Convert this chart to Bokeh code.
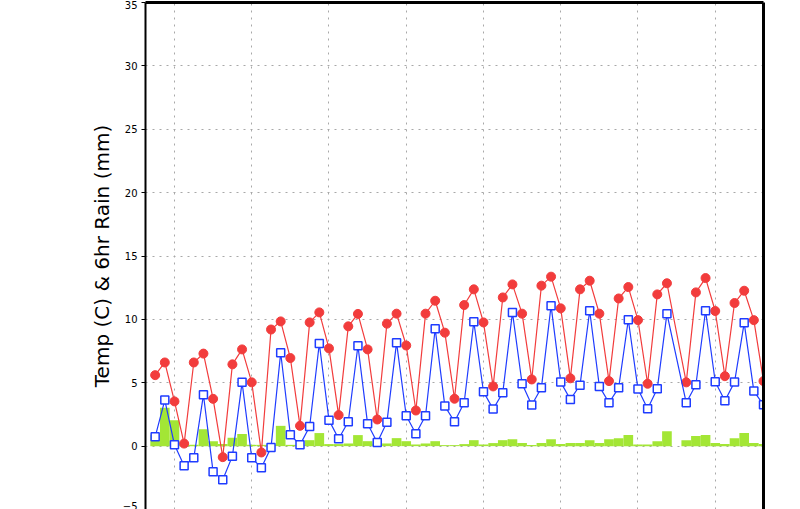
from bokeh.plotting import figure
from bokeh.models import FixedTicker, ColumnDataSource, LinearAxis
from bokeh.embed import file_html
from bokeh.resources import INLINE

# 6-hourly time steps (step 54 missing in the source data)
step = list(range(0, 54)) + list(range(55, 64))

temp_red = [5.6, 6.6, 3.53, 0.2, 6.6, 7.3, 3.73, -0.87, 6.45, 7.63,
            5.03, -0.5, 9.2, 9.84, 6.95, 1.6, 9.76, 10.55, 7.71, 2.45,
            9.45, 10.43, 7.63, 2.1, 9.66, 10.45, 7.94, 2.81, 10.45, 11.47,
            8.95, 3.74, 11.13, 12.37, 9.76, 4.71, 11.73, 12.76, 10.45, 5.26,
            12.66, 13.37, 10.87, 5.35, 12.37, 13.05, 10.45, 5.13, 11.65, 12.55,
            9.94, 4.92, 11.97, 12.85,
            5.03, 12.13, 13.26, 10.66, 5.52, 11.29, 12.26, 9.94, 5.13]

temp_blue = [0.73, 3.63, 0.1, -1.55, -0.92, 4.05, -2.03, -2.66, -0.79, 5.03,
             -0.92, -1.71, -0.1, 7.37, 0.9, 0.1, 1.55, 8.1, 2.05, 0.58,
             1.92, 7.92, 1.76, 0.29, 1.89, 8.16, 2.4, 0.97, 2.4, 9.26,
             3.16, 1.92, 3.42, 9.81, 4.29, 2.92, 4.21, 10.55, 4.92, 3.24,
             4.6, 11.08, 5.05, 3.68, 4.81, 10.68, 4.71, 3.42, 4.6, 9.97,
             4.5, 2.95, 4.52, 10.45,
             3.42, 4.84, 10.68, 5.08, 3.58, 5.05, 9.73, 4.34, 3.26]

rain = [0.9, 3.03, 2.05, 0.26, 0.1, 1.34, 0.39, 0.16, 0.66, 0.95,
        0.1, 0.1, 0.1, 1.6, 0.1, 0.1, 0.47, 1.03, 0.16, 0.16,
        0.21, 0.87, 0.39, 0.2, 0.21, 0.63, 0.39, 0.13, 0.21, 0.39,
        0.08, 0.08, 0.16, 0.47, 0.13, 0.24, 0.47, 0.55, 0.24, 0.08,
        0.24, 0.55, 0.16, 0.24, 0.24, 0.47, 0.24, 0.55, 0.63, 0.87,
        0.13, 0.13, 0.39, 1.18,
        0.47, 0.79, 0.87, 0.24, 0.16, 0.63, 1.03, 0.24, 0.16]

y_ticks = [-5, 0, 5, 10, 15, 20, 25, 30, 35]
x_grid_ticks = [2, 10, 18, 26, 34, 42, 50, 58]

RED = "#f23c3c"
BLUE = "#1f3cff"
GREEN = "#a3e635"

src = ColumnDataSource(dict(step=step, red=temp_red, blue=temp_blue, rain=rain))

p = figure(width=783, height=509, output_backend="svg", toolbar_location=None,
           x_range=(-1.0, 63.0), y_range=(-5, 35), x_axis_location=None,
           min_border_left=145, min_border_right=20, min_border_top=2,
           min_border_bottom=0)

p.outline_line_color = None

p.yaxis.ticker = FixedTicker(ticks=y_ticks)
p.ygrid.ticker = FixedTicker(ticks=y_ticks)
p.xgrid.ticker = FixedTicker(ticks=x_grid_ticks)
for g in (p.xgrid, p.ygrid):
    g.grid_line_color = "#a8a8a8"
    g.grid_line_dash = "2 5"
    g.grid_line_width = 1

ax = p.yaxis[0]
ax.axis_label = "Temp (C) & 6hr Rain (mm)"
ax.axis_label_text_font = "DejaVu Sans"
ax.axis_label_text_font_size = "20px"
ax.axis_label_text_font_style = "normal"
ax.axis_label_text_color = "black"
ax.axis_label_standoff = 6
ax.major_label_text_font = "DejaVu Sans"
ax.major_label_text_font_size = "10px"
ax.major_label_text_color = "black"
ax.major_label_standoff = 4
ax.axis_line_width = 2
ax.axis_line_color = "black"
ax.major_tick_out = 4
ax.major_tick_in = 0
ax.major_tick_line_color = "black"
ax.minor_tick_out = 0
ax.minor_tick_in = 0


def border_axis():
    return LinearAxis(ticker=FixedTicker(ticks=[]), axis_line_width=3,
                      axis_line_color="black", major_tick_out=0, major_tick_in=0,
                      minor_tick_out=0, minor_tick_in=0, major_label_standoff=0,
                      axis_label_standoff=0, major_label_text_font_size="0px")


p.add_layout(border_axis(), "above")
p.add_layout(border_axis(), "right")

p.vbar(x="step", top="rain", bottom=0, width=1.0, source=src,
       fill_color=GREEN, line_color=None)

p.line("step", "red", source=src, line_color=RED, line_width=1.2)
p.scatter("step", "red", source=src, marker="circle", size=9,
          fill_color=RED, line_color=RED)

p.line("step", "blue", source=src, line_color=BLUE, line_width=1.2)
p.scatter("step", "blue", source=src, marker="square", size=8,
          fill_color="white", line_color=BLUE, line_width=1.5)

open("out.html", "w").write(file_html(p, INLINE))
